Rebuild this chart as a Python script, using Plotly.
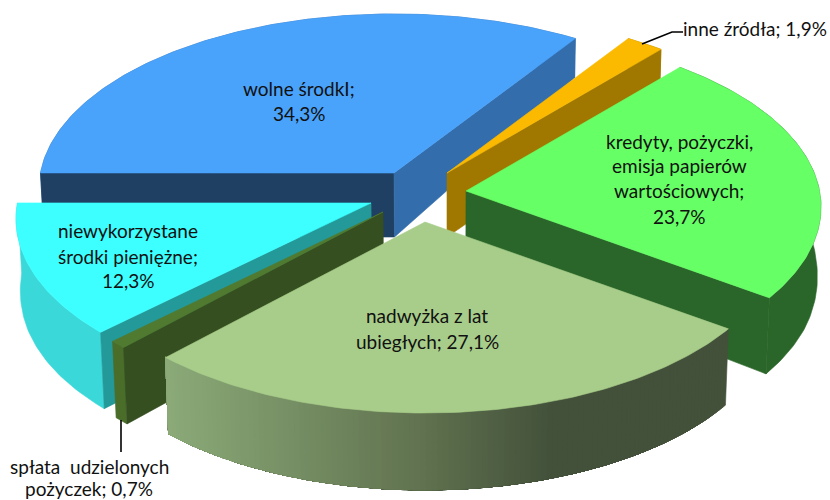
import math
import numpy as np
import plotly.graph_objects as go

# --- data ---
categories = ["wolne środkI", "inne źródła", "kredyty, pożyczki, emisja papierów wartościowych",
              "nadwyżka z lat ubiegłych", "spłata  udzielonych pożyczek", "niewykorzystane środki pieniężne"]
values = [34.3, 1.9, 23.7, 27.1, 0.7, 12.3]

# --- style / geometry of the 3-D pie ---
top_colors = ["#4AA3FB", "#FBBA00", "#66FF66", "#A8CD8A", "#507A30", "#3DFFFF"]
outer_colors = ["#336DAB", "#A07800", "#2A6629", None, "#4A6D2A", "#3AD8D8"]
start_cut_colors = ["#1F4063", None, None, None, "#354F20", "#249999"]
end_cut_colors = ["#336DAB", "#A07800", "#2A6629", None, None, None]
apex_px = [(394, 173), (447, 173), (466, 191), (425, 222), (383, 212), (371, 203)]
START = 33.5          # angle at which the second slice begins, clockwise from the back
A, B, CY = 355.0, 175.0, 16.0
C = CY / B
grad_x = [169, 420, 553]
grad_rgb = [(139, 170, 120), (97, 115, 80), (67, 81, 58)]

label_lines = [
    ["wolne środkI;", "{v}"],
    ["inne źródła; {v}"],
    ["kredyty, pożyczki,", "emisja papierów", "wartościowych;", "{v}"],
    ["nadwyżka z lat", "ubiegłych; {v}"],
    ["spłata  udzielonych", "pożyczek; {v}"],
    ["niewykorzystane", "środki pieniężne;", "{v}"],
]
label_pos = [
    (299, [88, 113]),
    (755, [28]),
    (679, [141, 165, 190, 216]),
    (427, [315, 341]),
    (89, [466, 488]),
    (128, [230, 256, 280]),
]


def rim(t_deg, apex):
    t = math.radians(t_deg)
    X, Y = math.sin(t), math.cos(t)
    w = 1 + C * Y
    u = X * math.sqrt(1 - C * C) / w
    v = (Y + C) / w
    return apex[0] + A * u, apex[1] + CY - B * v


def lower(p):
    h = float(np.interp(p[1], [38, 173, 208, 250, 294, 420], [39, 64, 71, 75, 76, 77]))
    return p[0] + (450 - p[0]) * 0.0105 * h / 76, p[1] + h


def poly(fig, pts, color):
    xs = [p[0] for p in pts] + [pts[0][0]]
    ys = [p[1] for p in pts] + [pts[0][1]]
    fig.add_trace(go.Scatter(x=xs, y=ys, mode="lines", fill="toself", fillcolor=color,
                             line=dict(color=color, width=0.6), hoverinfo="skip", showlegend=False))


fig = go.Figure()

# cumulative angles from the data
total = sum(values)
spans = [v / total * 360 for v in values]
starts = [START - spans[0]]
for s in spans[:-1]:
    starts.append(starts[-1] + s)

for i in [0, 1, 2, 5, 4, 3]:
    t0, t1 = starts[i], starts[i] + spans[i]
    apex = apex_px[i]
    n = max(6, int(spans[i] * 1.2))
    ts = [t0 + (t1 - t0) * k / n for k in range(n + 1)]
    top = [rim(t, apex) for t in ts]
    bot = [lower(p) for p in top]
    a_low = lower(apex)
    if outer_colors[i]:
        poly(fig, top + bot[::-1], outer_colors[i])
    else:
        # outer wall with a horizontal gradient: each band reaches to the far end,
        # and the next one paints over it, so no seams show
        for k in range(n):
            mx = (top[k][0] + top[k + 1][0]) / 2
            rgb = [int(np.interp(mx, grad_x, [c[j] for c in grad_rgb])) for j in range(3)]
            poly(fig, top[k:] + bot[k:][::-1], "rgb(%d,%d,%d)" % tuple(rgb))
    if start_cut_colors[i]:
        poly(fig, [apex, top[0], bot[0], a_low], start_cut_colors[i])
    if end_cut_colors[i]:
        poly(fig, [apex, top[-1], bot[-1], a_low], end_cut_colors[i])
    poly(fig, [apex] + top, top_colors[i])

# leader lines
fig.add_trace(go.Scatter(x=[642, 672, 683], y=[44, 32, 32], mode="lines",
                         line=dict(color="#000000", width=1.6), hoverinfo="skip", showlegend=False))
fig.add_trace(go.Scatter(x=[121, 121], y=[420, 452], mode="lines",
                         line=dict(color="#000000", width=1.6), hoverinfo="skip", showlegend=False))

# labels
for i, lines in enumerate(label_lines):
    txt = f"{values[i]:.1f}%".replace(".", ",")
    cx, ys = label_pos[i]
    for line, y in zip(lines, ys):
        fig.add_annotation(x=cx, y=y, text=line.replace("{v}", txt).replace("  ", "\u00a0 "),
                           showarrow=False, xanchor="center", yanchor="middle",
                           font=dict(family="Lato, Carlito, sans-serif", size=19, color="#111111"))

fig.update_layout(
    width=830, height=500, margin=dict(l=0, r=0, t=0, b=0),
    paper_bgcolor="#FFFFFF", plot_bgcolor="#FFFFFF", showlegend=False,
    xaxis=dict(range=[0, 830], visible=False, fixedrange=True),
    yaxis=dict(range=[500, 0], visible=False, fixedrange=True),
)
fig.write_html("out.html", config={"displayModeBar": False},
               post_script="document.body.style.margin='0';")
